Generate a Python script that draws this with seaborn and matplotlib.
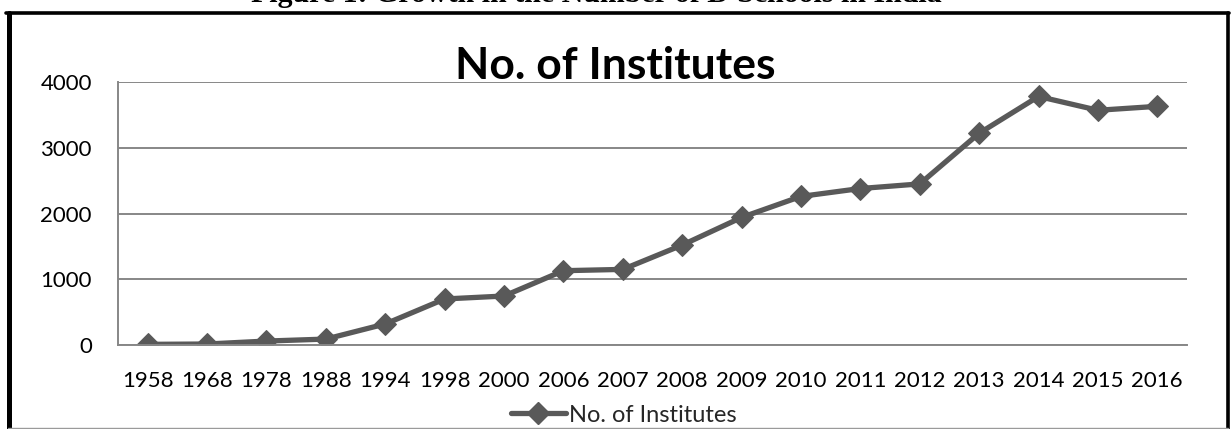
import matplotlib
matplotlib.use("Agg")
import matplotlib.pyplot as plt
from matplotlib.lines import Line2D
import seaborn as sns
import pandas as pd

years = ["1958", "1968", "1978", "1988", "1994", "1998", "2000", "2006", "2007",
         "2008", "2009", "2010", "2011", "2012", "2013", "2014", "2015", "2016"]
institutes = [10, 15, 60, 90, 320, 700, 745, 1130, 1150,
              1520, 1940, 2260, 2380, 2450, 3220, 3780, 3570, 3630]
yticks = [0, 1000, 2000, 3000, 4000]
series_name = "No. of Institutes"
chart_title = "No. of Institutes"
header = "Figure 1: Growth in the Number of B-Schools in India"

sns.set_style("white")
plt.rcParams['font.family'] = ['Lato', 'DejaVu Sans']

df = pd.DataFrame({"Year": years, "Count": institutes})

W, H = 1232, 429
fig = plt.figure(figsize=(W / 100, H / 100), dpi=100)
ax = fig.add_axes([118 / W, 1 - 345 / H, (1187 - 118) / W, (345 - 82) / H])

line_col = "#595959"
grid_col = "#878787"

sns.lineplot(data=df, x="Year", y="Count", ax=ax, color=line_col, lw=3.8,
             marker="D", markersize=11, markeredgecolor=line_col,
             markerfacecolor=line_col, sort=False, label=series_name, legend=False)

ax.set_xlim(-0.5, len(years) - 0.5)
ax.set_ylim(0, 4000)
ax.set_yticks(yticks)
ax.set_yticklabels([str(v) for v in yticks], fontsize=16)
ax.set_xticks(range(len(years)))
ax.set_xticklabels(years, fontsize=16)
ax.set_xticks([i - 0.5 for i in range(len(years) + 1)], minor=True)
ax.tick_params(axis="x", which="major", length=0, pad=19, colors="black")
ax.tick_params(axis="x", which="minor", length=5.8, width=1.3, color=grid_col, direction="out")
ax.tick_params(axis="y", which="major", length=5.8, width=1.3, color=grid_col,
               direction="out", pad=13, labelcolor="black")
ax.yaxis.grid(True, color=grid_col, lw=1.4)
ax.set_axisbelow(True)
for s in ["top", "right"]:
    ax.spines[s].set_visible(False)
for s in ["left", "bottom"]:
    ax.spines[s].set_color(grid_col)
    ax.spines[s].set_linewidth(1.4)
ax.set_xlabel("")
ax.set_ylabel("")

fig.text(615 / W, 1 - 79 / H, chart_title, ha="center", va="baseline",
         fontsize=32, fontweight="bold", color="black")

fig.text(596 / W, 1 - 2.5 / H, header, ha="center", va="baseline",
         fontsize=21.5, fontweight="bold", family="Liberation Serif", color="black")

handle = Line2D([], [], color=line_col, lw=3.8, marker="D", markersize=11)
fig.legend([handle], [series_name], loc="center", bbox_to_anchor=(624 / W, 1 - 415 / H),
           frameon=False, fontsize=17, handlelength=2.3, handletextpad=0.15,
           borderpad=0, borderaxespad=0)

# outer frame
fig.add_artist(Line2D([8.5 / W, 8.5 / W], [0, 1 - 12.5 / H], color="black", lw=3.6,
                      transform=fig.transFigure))
fig.add_artist(Line2D([6 / W, 1229 / W], [1 - 12.5 / H, 1 - 12.5 / H], color="black", lw=2.6,
                      transform=fig.transFigure))
fig.add_artist(Line2D([1227.5 / W, 1227.5 / W], [0, 1 - 12.5 / H], color="black", lw=2.6,
                      transform=fig.transFigure))
fig.add_artist(Line2D([8 / W, 1228 / W], [1.5 / H, 1.5 / H], color="#9a9a9a", lw=1.0,
                      transform=fig.transFigure))

fig.savefig("out.png", dpi=100)
